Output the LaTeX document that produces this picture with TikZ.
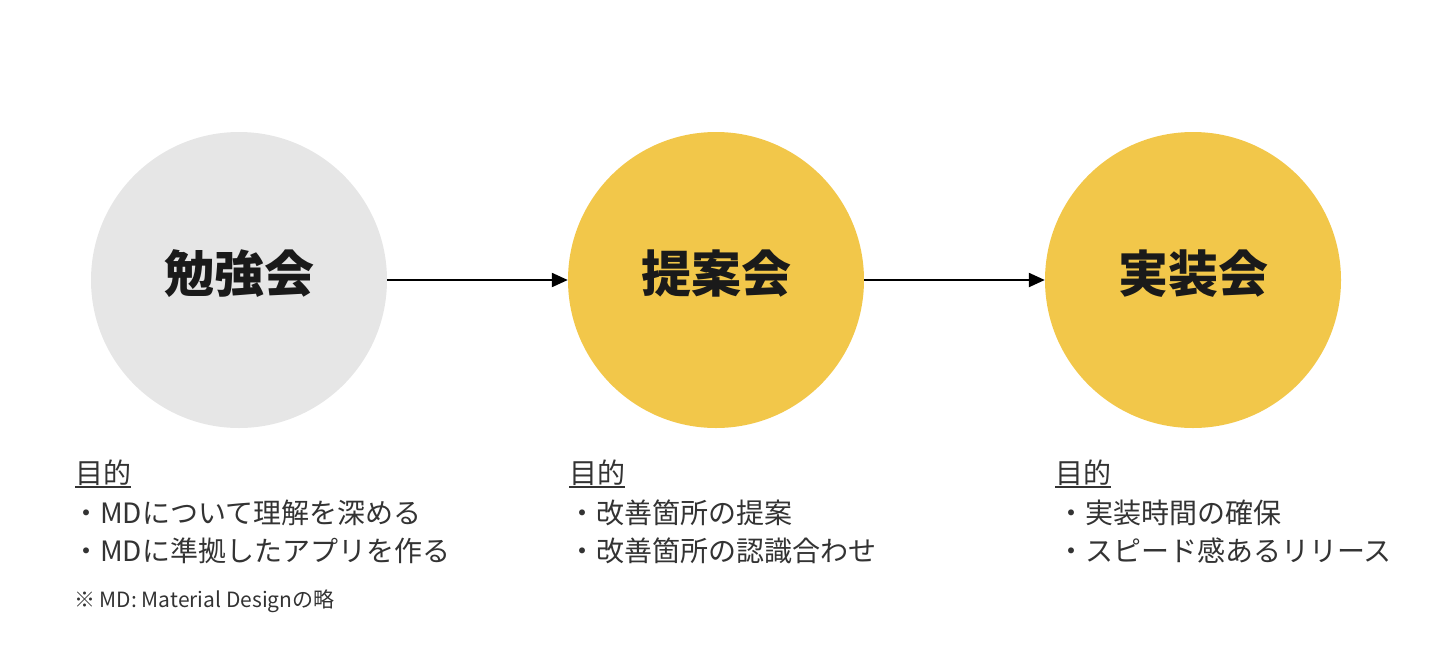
\documentclass[tikz,border=0pt]{standalone}
\usepackage{fontspec}
\setmainfont{Noto Sans CJK JP}
\usetikzlibrary{arrows.meta}
\definecolor{greyfill}{HTML}{E6E6E6}
\definecolor{yellowfill}{HTML}{F2C74A}
\definecolor{bodytext}{HTML}{333333}
\definecolor{titletext}{HTML}{1A1A1A}
\begin{document}
\begin{tikzpicture}[x=1pt,y=-1pt,
  stage/.style={circle,minimum size=296pt,inner sep=0pt,draw=none},
  stagelabel/.style={inner sep=0pt,text=titletext,
    font=\fontsize{50}{58}\selectfont\bfseries},
  head/.style={anchor=base west,inner sep=0pt,text=bodytext,
    font=\fontsize{28}{38}\selectfont},
  item/.style={anchor=base west,inner sep=0pt,text=bodytext,
    font=\fontsize{28}{38}\selectfont},
  note/.style={anchor=base west,inner sep=0pt,text=bodytext,
    font=\fontsize{21}{26}\selectfont},
  flow/.style={line width=2.2pt,black,-{Triangle[length=16pt,width=14pt]}},
  uline/.style={line width=1.4pt,bodytext}]
\useasboundingbox (0,0) rectangle (1440,662);
\node[stage,fill=greyfill] (c1) at (239,280) {};
\node[stage,fill=yellowfill] (c2) at (716,280) {};
\node[stage,fill=yellowfill] (c3) at (1193,280) {};
\node[stagelabel] (t1) at ([yshift=6pt]c1.center) {勉強会};
\node[stagelabel] (t2) at ([yshift=6pt]c2.center) {提案会};
\node[stagelabel] (t3) at ([yshift=6pt]c3.center) {実装会};
\draw[flow] (c1.east) -- (c2.west);
\draw[flow] (c2.east) -- (c3.west);
\node[head] (h1) at (75,483) {目的};
\node[head] (h2) at (569,483) {目的};
\node[head] (h3) at (1055,483) {目的};
\draw[uline] ([yshift=-4pt]h1.base west) -- ([yshift=-4pt]h1.base east);
\draw[uline] ([yshift=-4pt]h2.base west) -- ([yshift=-4pt]h2.base east);
\draw[uline] ([yshift=-4pt]h3.base west) -- ([yshift=-4pt]h3.base east);
\node[item] (l1a) at (72,523) {・MDについて理解を深める};
\node[item] (l1b) at (72,561) {・MDに準拠したアプリを作る};
\node[item] (l2a) at (568,523) {・改善箇所の提案};
\node[item] (l2b) at (568,561) {・改善箇所の認識合わせ};
\node[item] (l3a) at (1057,523) {・実装時間の確保};
\node[item] (l3b) at (1057,561) {・スピード感あるリリース};
\node[note] (n1) at (74,607) {※ MD: Material Designの略};
\end{tikzpicture}
\end{document}
